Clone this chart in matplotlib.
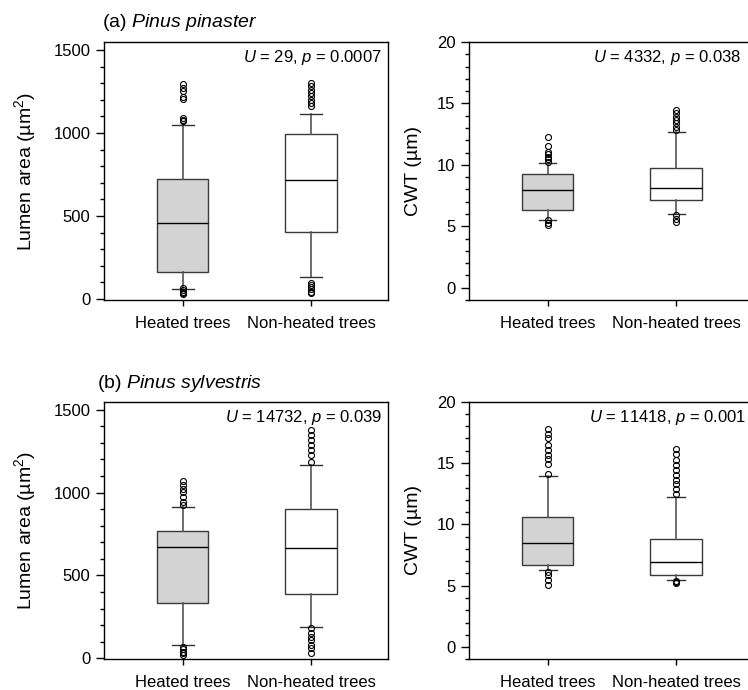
import matplotlib
matplotlib.use("Agg")
import matplotlib.pyplot as plt
from matplotlib.ticker import MultipleLocator

plt.rcParams['font.family'] = ['Liberation Sans', 'DejaVu Sans']
plt.rcParams['mathtext.fontset'] = 'custom'
plt.rcParams['mathtext.rm'] = 'Liberation Sans'
plt.rcParams['mathtext.it'] = 'Liberation Sans:italic'

groups = ['Heated trees', 'Non-heated trees']

# five-number summaries: whisker low, Q1, median, Q3, whisker high
pp_lumen_heated = [60, 164, 458, 723, 1046]
pp_lumen_nonheated = [133, 402, 715, 992, 1116]
pp_lumen_heated_out = [1295, 1270, 1250, 1215, 1205, 1090, 1080, 1075, 65, 55, 45, 35, 30]
pp_lumen_nonheated_out = [1300, 1280, 1260, 1240, 1220, 1200, 1180, 1165, 95, 85, 75, 60, 45, 35]

pp_cwt_heated = [5.55, 6.31, 7.95, 9.28, 10.12]
pp_cwt_nonheated = [6.01, 7.18, 8.14, 9.74, 12.65]
pp_cwt_heated_out = [12.24, 11.54, 11.07, 10.88, 10.67, 10.45, 10.23, 5.5, 5.3, 5.1]
pp_cwt_nonheated_out = [14.48, 14.2, 13.93, 13.66, 13.39, 13.1, 12.84, 5.9, 5.63, 5.36]

ps_lumen_heated = [78, 331, 669, 767, 910]
ps_lumen_nonheated = [189, 386, 663, 900, 1165]
ps_lumen_heated_out = [1068, 1044, 1024, 1004, 974, 944, 924, 70, 55, 40, 30, 20]
ps_lumen_nonheated_out = [1375, 1345, 1315, 1285, 1255, 1225, 1185,
                          181, 151, 131, 110, 80, 60, 30]

ps_cwt_heated = [6.28, 6.66, 8.51, 10.57, 13.91]
ps_cwt_nonheated = [5.46, 5.90, 6.96, 8.83, 12.23]
ps_cwt_heated_out = [17.8, 17.4, 17.0, 16.44, 16.03, 15.62, 15.35, 14.95, 14.13,
                     6.11, 5.84, 5.43, 5.03]
ps_cwt_nonheated_out = [16.11, 15.76, 15.22, 14.81, 14.4, 14.0, 13.59, 13.3, 12.9, 12.5,
                        5.4, 5.3, 5.2]

stat_texts = ['$U$ = 29, $p$ = 0.0007', '$U$ = 4332, $p$ = 0.038',
              '$U$ = 14732, $p$ = 0.039', '$U$ = 11418, $p$ = 0.001']
titles = ['(a) $\\it{Pinus\\ pinaster}$', '(b) $\\it{Pinus\\ sylvestris}$']


def make_stats(five, out):
    lo, q1, med, q3, hi = five
    return dict(whislo=lo, q1=q1, med=med, q3=q3, whishi=hi, fliers=out)


W, H = 748, 690
fig = plt.figure(figsize=(W / 100, H / 100), dpi=100)


def add_panel(left_px, top_px, h_px, boxes, outs, lumen, text, text_x, capw):
    ax = fig.add_axes([left_px / W, 1 - (top_px + h_px) / H, 284 / W, h_px / H])
    stats = [make_stats(b, o) for b, o in zip(boxes, outs)]
    res = ax.bxp(stats, positions=[1, 2], widths=0.40, patch_artist=True,
                 capwidths=[capw, capw],
                 boxprops=dict(edgecolor='#3a3a3a', linewidth=1.0),
                 whiskerprops=dict(color='#555555', linewidth=1.2),
                 capprops=dict(color='#333333', linewidth=1.0),
                 medianprops=dict(color='black', linewidth=1.0),
                 flierprops=dict(marker='o', markersize=4.3, markerfacecolor='none',
                                 markeredgecolor='black', markeredgewidth=0.8))
    for patch, fc in zip(res['boxes'], ['#d3d3d3', 'white']):
        patch.set_facecolor(fc)
    ax.set_xlim(0.39, 2.60)
    ax.set_xticks([1, 2])
    ax.set_xticklabels(groups, fontsize=12)
    ax.tick_params(axis='x', length=4.5, width=1, pad=7)
    if lumen:
        ax.set_ylim(-6, 1548)
        ax.yaxis.set_major_locator(MultipleLocator(500))
        ax.yaxis.set_minor_locator(MultipleLocator(100))
        ax.set_ylabel('Lumen area (\u00b5m$^2$)', fontsize=14)
        ax.yaxis.set_label_coords(-0.232, 0.5)
    else:
        ax.set_ylim(-1, 20)
        ax.yaxis.set_major_locator(MultipleLocator(5))
        ax.yaxis.set_minor_locator(MultipleLocator(1))
        ax.set_ylabel('CWT (\u00b5m)', fontsize=14)
        ax.yaxis.set_label_coords(-0.165, 0.5)
    ax.tick_params(axis='y', which='major', length=6, width=1, pad=4, labelsize=12)
    ax.tick_params(axis='y', which='minor', length=3.2, width=1)
    for sp in ax.spines.values():
        sp.set_linewidth(1.0)
    ax.text(text_x, 1 - 20 / h_px, text, transform=ax.transAxes, ha='right',
            va='baseline', fontsize=12)
    return ax


add_panel(104.3, 42, 258, [pp_lumen_heated, pp_lumen_nonheated],
          [pp_lumen_heated_out, pp_lumen_nonheated_out], True, stat_texts[0], 0.978, 0.169)
add_panel(469.3, 42, 258, [pp_cwt_heated, pp_cwt_nonheated],
          [pp_cwt_heated_out, pp_cwt_nonheated_out], False, stat_texts[1], 0.956, 0.135)
add_panel(104.3, 401.7, 257.6, [ps_lumen_heated, ps_lumen_nonheated],
          [ps_lumen_heated_out, ps_lumen_nonheated_out], True, stat_texts[2], 0.978, 0.169)
add_panel(469.3, 401.7, 257.6, [ps_cwt_heated, ps_cwt_nonheated],
          [ps_cwt_heated_out, ps_cwt_nonheated_out], False, stat_texts[3], 0.977, 0.14)

fig.text(102 / W, 1 - 27 / H, titles[0], fontsize=14, ha='left', va='baseline')
fig.text(97 / W, 1 - 388 / H, titles[1], fontsize=14, ha='left', va='baseline')

fig.savefig('out.png', dpi=100)
